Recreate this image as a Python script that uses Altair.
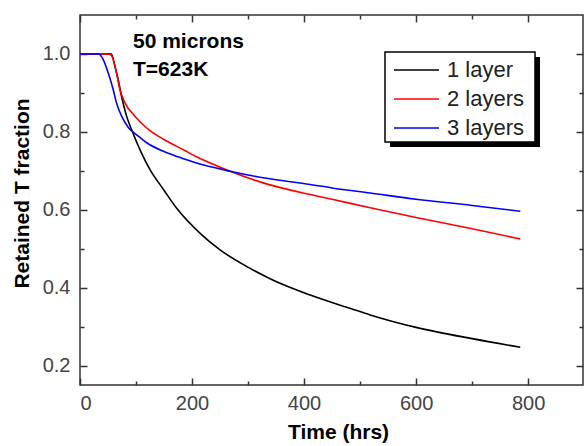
import altair as alt
import pandas as pd

SERIES = ["1 layer", "2 layers", "3 layers"]
COLORS = ["#000000", "#ff0000", "#0000ff"]

T_1 = [0, 56, 62, 68, 74, 83, 92, 109, 125, 149, 173, 214, 250, 298, 345, 411, 488, 518, 600, 700, 786]
V_1 = [1.0, 1.0, 0.97, 0.935, 0.892, 0.841, 0.806, 0.748, 0.703, 0.652, 0.603, 0.540, 0.497, 0.454, 0.419, 0.381, 0.344, 0.330, 0.298, 0.269, 0.247]

T_2 = [0, 50, 56, 65, 71, 80, 95, 107, 125, 149, 187, 208, 268, 327, 411, 450, 518, 600, 700, 786]
V_2 = [1.0, 1.0, 0.996, 0.953, 0.91, 0.875, 0.845, 0.826, 0.803, 0.781, 0.752, 0.736, 0.699, 0.669, 0.639, 0.627, 0.605, 0.58, 0.551, 0.525]

T_3 = [0, 33, 41, 50, 59, 65, 74, 86, 104, 119, 149, 175, 208, 268, 327, 411, 450, 518, 600, 700, 786]
V_3 = [1.0, 1.0, 0.987, 0.953, 0.91, 0.875, 0.841, 0.812, 0.789, 0.772, 0.750, 0.736, 0.720, 0.699, 0.682, 0.665, 0.656, 0.643, 0.627, 0.611, 0.596]

X_LABEL_TICKS = [0, 200, 400, 600, 800]
X_ALL_TICKS = [0, 100, 200, 300, 400, 500, 600, 700, 800]
Y_LABEL_TICKS = [0.2, 0.4, 0.6, 0.8, 1.0]
Y_ALL_TICKS = [0.2, 0.3, 0.4, 0.5, 0.6, 0.7, 0.8, 0.9, 1.0]
ANNOTATION = ["50 microns", "T=623K"]

rows = []
for name, ts, vs in zip(SERIES, [T_1, T_2, T_3], [V_1, V_2, V_3]):
    for t, v in zip(ts, vs):
        rows.append({"series": name, "t": t, "v": v})
df = pd.DataFrame(rows)

FONT = "Liberation Sans"
W, H = 503, 370
AXC = "#333333"

xs = alt.Scale(domain=[0, 898], nice=False, zero=False)
ys = alt.Scale(domain=[0.15, 1.1], nice=False, zero=False)

x_tick_size = {"condition": {"test": "datum.value % 200 === 0", "value": 7}, "value": 4}
y_tick_size = {"condition": {"test": "round(datum.value * 10) % 2 === 0", "value": 7}, "value": 4}


def tick_axis_x(orient):
    return alt.Axis(orient=orient, offset=-H, labels=False, domain=False, grid=False,
                    title=None, values=X_ALL_TICKS, tickSize=x_tick_size,
                    tickColor=AXC, tickWidth=1.5)


def tick_axis_y(orient):
    return alt.Axis(orient=orient, offset=-W, labels=False, domain=False, grid=False,
                    title=None, values=Y_ALL_TICKS, tickSize=y_tick_size,
                    tickColor=AXC, tickWidth=1.5)


base = alt.Chart(df)

lines = base.mark_line(strokeWidth=1.6, interpolate="monotone").encode(
    x=alt.X("t:Q", scale=xs, axis=alt.Axis(
        orient="bottom", values=X_LABEL_TICKS, ticks=False, tickSize=0, domain=False, grid=False,
        labelFont=FONT, labelFontSize=20, labelColor="#444444", labelPadding=8,
        title="Time (hrs)", titleFont=FONT, titleFontSize=21, titleFontWeight="bold",
        titleColor="#000000", titleX=258, titleY=47, titleAlign="center", titleBaseline="middle")),
    y=alt.Y("v:Q", scale=ys, axis=alt.Axis(
        orient="left", values=Y_LABEL_TICKS, format=".1f", ticks=False, tickSize=0, domain=False,
        grid=False, labelFont=FONT, labelFontSize=20, labelColor="#444444", labelPadding=10,
        title="Retained T fraction", titleFont=FONT, titleFontSize=21, titleFontWeight="bold",
        titleColor="#000000", titleAngle=270, titleX=-58, titleY=178, titleAlign="center",
        titleBaseline="middle")),
    color=alt.Color("series:N", scale=alt.Scale(domain=SERIES, range=COLORS), legend=alt.Legend(
        title=None, orient="none", legendX=313, legendY=44, symbolType="M-1,0H3.5", symbolSize=400,
        symbolStrokeWidth=1.6, labelFont=FONT, labelFontSize=22, labelColor="#222222",
        padding=0, rowPadding=7, labelOffset=32)),
    order="t:Q",
)

ticks_a = base.mark_point(opacity=0).encode(
    x=alt.X("t:Q", scale=xs, axis=tick_axis_x("top")),
    y=alt.Y("v:Q", scale=ys, axis=tick_axis_y("right")),
)
ticks_b = base.mark_point(opacity=0).encode(
    x=alt.X("t:Q", scale=xs, axis=tick_axis_x("bottom")),
    y=alt.Y("v:Q", scale=ys, axis=tick_axis_y("left")),
)

one = alt.Data(values=[{"k": 1}])
shadow = alt.Chart(one).mark_rect(color="#000000").encode(
    x=alt.value(310), x2=alt.value(460), y=alt.value(42), y2=alt.value(132)
)
box = alt.Chart(one).mark_rect(fill="#ffffff", stroke="#000000", strokeWidth=1.5).encode(
    x=alt.value(305), x2=alt.value(455), y=alt.value(37), y2=alt.value(127)
)
note = alt.Chart(one).mark_text(
    font=FONT, fontSize=21, fontWeight="bold", align="left", baseline="middle",
    lineHeight=28, color="#000000"
).encode(x=alt.value(53), y=alt.value(27), text=alt.value(ANNOTATION))

chart = alt.layer(shadow, box, lines, ticks_a, ticks_b, note).resolve_axis(
    x="independent", y="independent"
).properties(
    width=W, height=H,
    autosize=alt.AutoSizeParams(type="none"),
    padding={"left": 80, "top": 15, "right": 1, "bottom": 61},
).configure_view(stroke=AXC, strokeWidth=1.5)

chart.save("out.html", embed_options={"renderer": "svg", "actions": False})
